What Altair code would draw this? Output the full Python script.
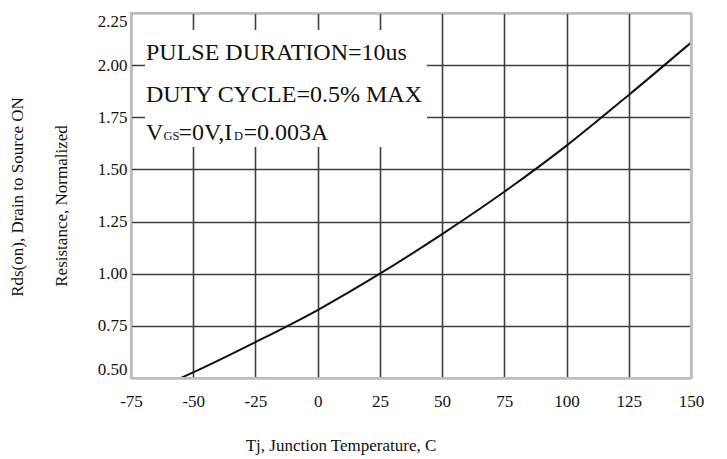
import altair as alt
import pandas as pd

# ---- data ----
temps = [-55, -50, -25, 0, 25, 50, 75, 100, 125, 150]
rdson = [0.50, 0.527, 0.672, 0.826, 1.00, 1.190, 1.393, 1.614, 1.857, 2.108]

x_ticks = [-75, -50, -25, 0, 25, 50, 75, 100, 125, 150]
y_ticks = [0.50, 0.75, 1.00, 1.25, 1.50, 1.75, 2.00, 2.25]

note_lines = ["PULSE DURATION=10us", "DUTY CYCLE=0.5% MAX"]
vgs_parts = ["V", "GS", "=0V,I", "D", "=0.003A"]
y_title_lines = ["Rds(on), Drain to Source ON", "Resistance, Normalized"]
x_title = "Tj, Junction Temperature, C"

FONT = "Liberation Serif"
W, H = 560, 365

df = pd.DataFrame({"T": temps, "R": rdson})
one = pd.DataFrame({"k": [0]})

xs = alt.Scale(domain=[-75, 150], nice=False, zero=False)
ys = alt.Scale(domain=[0.5, 2.25], nice=False, zero=False)

line = alt.Chart(df).mark_line(color="#111111", strokeWidth=2, interpolate="monotone").encode(
    x=alt.X("T:Q", scale=xs, title=None,
            axis=alt.Axis(values=x_ticks, grid=True, gridColor="#3f3f3f", gridWidth=1.6,
                          domain=False, ticks=False, tickSize=0, labelPadding=23,
                          labelBaseline="middle", labelFont=FONT, labelFontSize=17,
                          labelColor="#111111", labelFlush=False,
                          labelExpr="'' + datum.value")),
    y=alt.Y("R:Q", scale=ys, title=None,
            axis=alt.Axis(values=y_ticks, grid=True, gridColor="#3f3f3f", gridWidth=1.6,
                          domain=False, ticks=False, tickSize=0, labelPadding=4,
                          labelFont=FONT, labelFontSize=17, labelColor="#111111",
                          labelFlush=True, format=".2f")),
)

box = alt.Chart(one).mark_rect(fill="white", stroke=None).encode(
    x=alt.value(14), x2=alt.value(296), y=alt.value(17), y2=alt.value(134)
)

frame = alt.Chart(one).mark_rect(fill="white", fillOpacity=0, stroke="#bdbdbd", strokeWidth=2.2).encode(
    x=alt.value(0), x2=alt.value(W), y=alt.value(0), y2=alt.value(H)
)

layers = [box, line]

note_y = [47, 89]
note_size = [24, 24]
for txt, yy, fs in zip(note_lines, note_y, note_size):
    layers.append(
        alt.Chart(one).mark_text(font=FONT, fontSize=fs, align="left", baseline="alphabetic",
                                 color="#111111", text=txt).encode(x=alt.value(15), y=alt.value(yy))
    )

vgs_x = [15, 32.5, 47.5, 103, 112.5]
vgs_size = [24, 12.5, 24, 12.5, 24]
for txt, xx, fs in zip(vgs_parts, vgs_x, vgs_size):
    layers.append(
        alt.Chart(one).mark_text(font=FONT, fontSize=fs, align="left", baseline="alphabetic",
                                 color="#111111", text=txt).encode(x=alt.value(xx), y=alt.value(127))
    )

ytx = [-113, -69]
yty = [184, 193]
for txt, xx, yy in zip(y_title_lines, ytx, yty):
    layers.append(
        alt.Chart(one).mark_text(font=FONT, fontSize=17, align="center", baseline="middle",
                                 angle=270, color="#111111", text=txt).encode(x=alt.value(xx), y=alt.value(yy))
    )

layers.append(
    alt.Chart(one).mark_text(font=FONT, fontSize=17, align="center", baseline="middle",
                             color="#111111", text=x_title).encode(x=alt.value(210), y=alt.value(433))
)

layers.append(frame)

chart = alt.layer(*layers).properties(
    width=W, height=H,
    autosize="none",
    padding={"left": 123, "top": 5, "right": 28, "bottom": 80},
).configure_view(strokeWidth=0).configure(background="white")

chart.save("out.html", embed_options={"renderer": "svg", "actions": False})
